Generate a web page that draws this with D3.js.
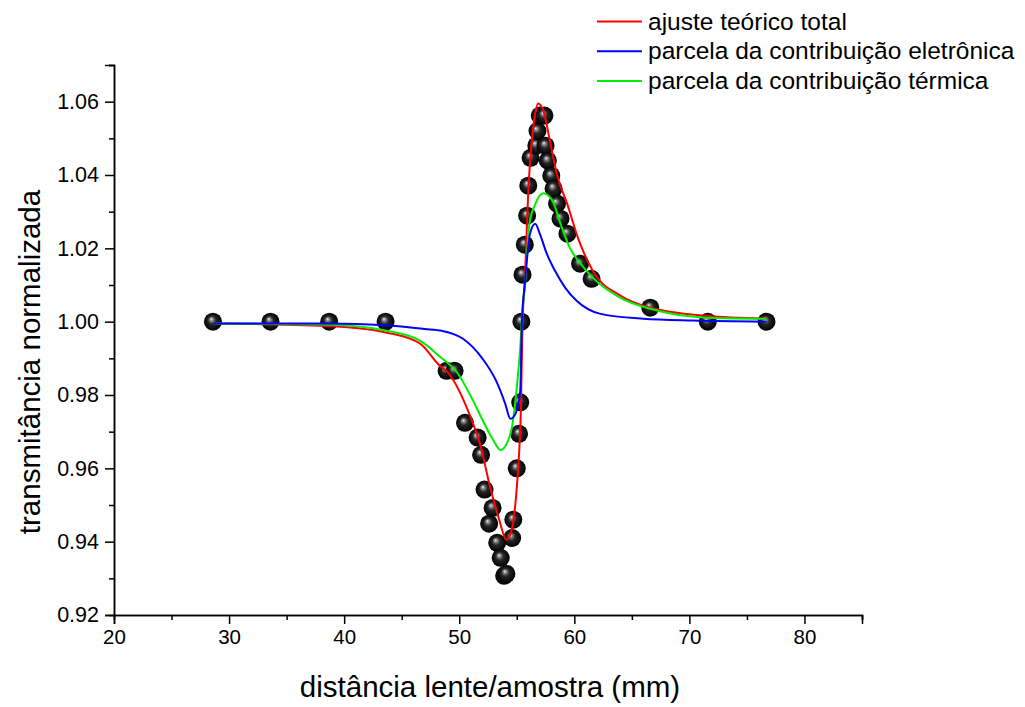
<!DOCTYPE html>
<html>
<head>
<meta charset="utf-8">
<script src="https://cdn.jsdelivr.net/npm/d3@7"></script>
<style>
  html, body { margin: 0; padding: 0; background: #fff; }
  svg { display: block; font-family: "Liberation Sans", Arial, sans-serif; }
</style>
</head>
<body>
<svg id="chart" width="1025" height="707"></svg>
<script>
// ---- data ----
const measured = [
  [28.6, 1.000], [33.6, 1.000], [38.7, 1.000], [43.6, 1.000],
  [48.9, 0.9866], [49.6, 0.9866], [50.5, 0.9724], [51.6, 0.9684], [51.9, 0.9637],
  [52.2, 0.9542], [52.6, 0.9449], [52.9, 0.9492], [53.3, 0.9397], [53.6, 0.9356],
  [53.9, 0.9307], [54.1, 0.9312], [54.6, 0.9410], [54.7, 0.9460], [55.0, 0.9600],
  [55.2, 0.9694], [55.3, 0.9780], [55.4, 1.0000], [55.5, 1.0128], [55.7, 1.0210],
  [55.9, 1.0289], [56.0, 1.0371], [56.2, 1.0447], [56.7, 1.0480], [56.8, 1.0520],
  [57.0, 1.0562], [57.4, 1.0562], [57.5, 1.0480], [57.7, 1.0439], [58.0, 1.0398],
  [58.2, 1.0363], [58.5, 1.0322], [58.8, 1.0281], [59.4, 1.0240], [60.5, 1.0158],
  [61.5, 1.0117], [66.6, 1.0038], [71.6, 1.0000], [76.7, 1.0000]
];
const totalFit = [
  [28.6, 0.9995], [38.5, 0.9988], [43.7, 0.9970], [46.6, 0.9940], [48.3, 0.9880],
  [48.9, 0.9865], [51.1, 0.9730], [51.8, 0.9667], [52.7, 0.9547], [53.5, 0.9457],
  [54.1, 0.9405], [54.6, 0.9438], [55.0, 0.9547], [55.2, 0.9640], [55.35, 0.9750],
  [55.5, 1.0000], [55.7, 1.0112], [56.0, 1.0357], [56.3, 1.0490], [56.6, 1.0567],
  [56.85, 1.0595], [57.3, 1.0576], [57.9, 1.0490], [58.5, 1.0400], [59.4, 1.0320],
  [60.3, 1.0230], [61.6, 1.0139], [64.0, 1.0071], [66.6, 1.0038], [71.5, 1.0016],
  [76.7, 1.0008]
];
const electronic = [
  [28.6, 0.9995], [38.5, 0.9995], [43.7, 0.9990], [47.0, 0.9980], [48.5, 0.9975],
  [50.3, 0.9954], [52.0, 0.9900], [53.2, 0.9839], [54.0, 0.9776], [54.45, 0.9735],
  [54.9, 0.9750], [55.3, 0.9810], [55.45, 1.0000], [55.7, 1.0103], [55.9, 1.0175],
  [56.15, 1.0240], [56.6, 1.0267], [57.0, 1.0240], [57.6, 1.0186], [58.3, 1.0140],
  [59.2, 1.0093], [60.2, 1.0057], [62.2, 1.0022], [66.0, 1.0008], [70.3, 1.0003],
  [76.7, 1.0000]
];
const thermal = [
  [28.6, 0.9995], [38.5, 0.9992], [43.7, 0.9975], [46.6, 0.9948], [48.3, 0.9905],
  [49.8, 0.9862], [51.2, 0.9785], [52.1, 0.9727], [52.9, 0.9680], [53.6, 0.9650],
  [54.2, 0.9672], [54.6, 0.9715], [55.0, 0.9820], [55.3, 0.9930], [55.5, 1.0030],
  [55.7, 1.0093], [56.1, 1.0267], [56.6, 1.0320], [57.3, 1.0350], [58.1, 1.0330],
  [58.8, 1.0267], [59.6, 1.0202], [60.5, 1.0160], [61.6, 1.0120], [64.0, 1.0065],
  [66.6, 1.0035], [71.5, 1.0011], [76.7, 1.0008]
];
const xTicks = [20, 30, 40, 50, 60, 70, 80];
const yTicks = [0.92, 0.94, 0.96, 0.98, 1.00, 1.02, 1.04, 1.06];
const legendLabels = ["ajuste teórico total", "parcela da contribuição eletrônica", "parcela da contribuição térmica"];
const xTitle = "distância lente/amostra (mm)";
const yTitle = "transmitância normalizada";

// ---- layout ----
const svg = d3.select("#chart");
const x = d3.scaleLinear().domain([20, 85]).range([114, 862]);
const y = d3.scaleLinear().domain([0.92, 1.07]).range([615, 65]);

const defs = svg.append("defs");
const grad = defs.append("radialGradient").attr("id", "ball")
  .attr("cx", "50%").attr("cy", "50%").attr("r", "50%")
  .attr("fx", "40%").attr("fy", "35%");
grad.append("stop").attr("offset", "0%").attr("stop-color", "#f0f0f0");
grad.append("stop").attr("offset", "18%").attr("stop-color", "#8a8a8a");
grad.append("stop").attr("offset", "45%").attr("stop-color", "#262626");
grad.append("stop").attr("offset", "100%").attr("stop-color", "#000");

// axes
const xAxis = d3.axisBottom(x).tickValues(xTicks).tickFormat(d3.format("d")).tickSize(9).tickPadding(5);
const xMinor = d3.axisBottom(x).tickValues([25, 35, 45, 55, 65, 75, 85]).tickFormat("").tickSize(5);
const yAxis = d3.axisLeft(y).tickValues(yTicks).tickFormat(d3.format(".2f")).tickSize(9).tickPadding(6);
const yMinor = d3.axisLeft(y).tickValues([0.93, 0.95, 0.97, 0.99, 1.01, 1.03, 1.05, 1.07]).tickFormat("").tickSize(5);

function styleAxis(g, size) {
  g.select(".domain").attr("stroke", "#000").attr("stroke-width", 1.5);
  g.selectAll(".tick line").attr("stroke", "#000").attr("stroke-width", 1.5);
  g.selectAll(".tick text").attr("fill", "#000").style("font-size", size + "px")
    .style("font-family", "'Liberation Sans', Arial, sans-serif");
}
svg.append("g").attr("transform", `translate(0,${y(0.92)})`).call(xMinor).call(styleAxis, 20);
svg.append("g").attr("transform", `translate(0,${y(0.92)})`).call(xAxis).call(styleAxis, 20.5);
svg.append("g").attr("transform", `translate(${x(20)},0)`).call(yMinor).call(styleAxis, 21.5);
svg.append("g").attr("transform", `translate(${x(20)},0)`).call(yAxis).call(styleAxis, 21.5);

// titles
svg.append("text").attr("x", 490).attr("y", 697).attr("text-anchor", "middle")
  .style("font-size", "29.5px").attr("fill", "#000").text(xTitle);
svg.append("text").attr("transform", "translate(40,362) rotate(-90)").attr("text-anchor", "middle")
  .style("font-size", "29.5px").attr("fill", "#000").text(yTitle);

// markers
svg.append("g").selectAll("circle").data(measured).join("circle")
  .attr("cx", d => x(d[0])).attr("cy", d => y(d[1])).attr("r", 9)
  .attr("fill", "url(#ball)");

// curves
const line = d3.line().x(d => x(d[0])).y(d => y(d[1])).curve(d3.curveMonotoneX);
const series = [
  { data: totalFit, color: "#ff0000" },
  { data: thermal, color: "#00ee00" },
  { data: electronic, color: "#0000ff" }
];
svg.append("g").selectAll("path").data(series).join("path")
  .attr("d", d => line(d.data)).attr("fill", "none")
  .attr("stroke", d => d.color).attr("stroke-width", 2);

// legend
const legColors = ["#ff0000", "#0000ff", "#00ee00"];
const leg = svg.append("g").selectAll("g").data(legendLabels).join("g")
  .attr("transform", (d, i) => `translate(597,${21.5 + i * 29.7})`);
leg.append("line").attr("x1", 0).attr("x2", 45).attr("y1", 0).attr("y2", 0)
  .attr("stroke", (d, i) => legColors[i]).attr("stroke-width", 2);
leg.append("text").attr("x", 51).attr("y", 8).style("font-size", "24.5px").attr("fill", "#000")
  .text(d => d);
</script>
</body>
</html>
